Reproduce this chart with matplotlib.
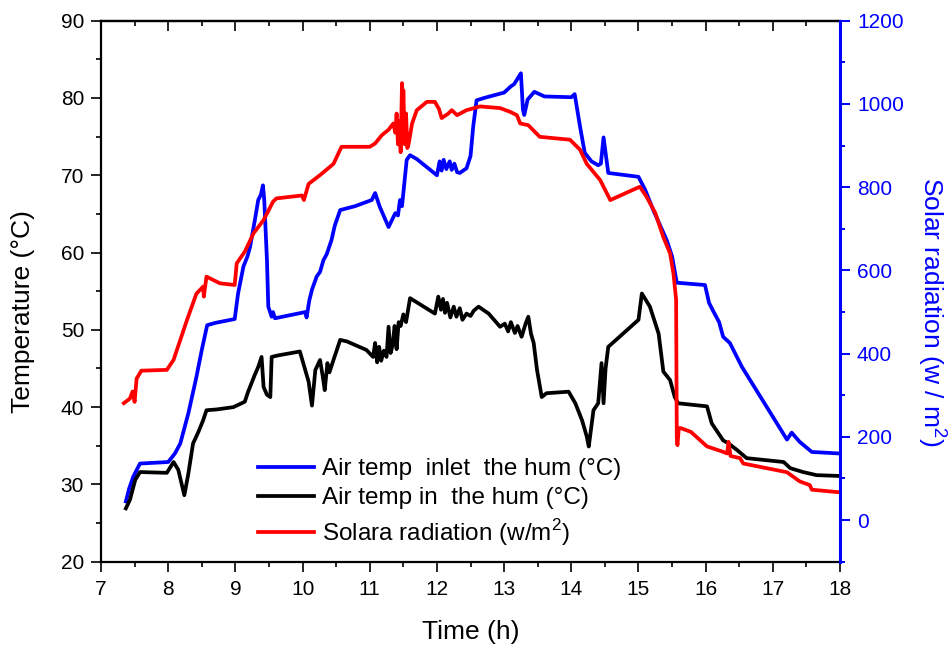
import matplotlib
matplotlib.use("Agg")
import matplotlib.pyplot as plt
from matplotlib.ticker import MultipleLocator

plt.rcParams['font.family'] = ['Liberation Sans', 'DejaVu Sans']
plt.rcParams['mathtext.fontset'] = 'custom'
plt.rcParams['mathtext.rm'] = 'Liberation Sans'

# Air temperature at the humidifier inlet (°C)
inlet_time = [7.37, 7.42, 7.48, 7.58, 8.00, 8.10, 8.18, 8.30, 8.42, 8.50, 8.58, 8.70,
              8.99, 9.04, 9.12, 9.18, 9.22, 9.29, 9.34, 9.38, 9.41, 9.43, 9.47, 9.49,
              9.54, 9.56, 9.59, 10.04, 10.06, 10.10, 10.14, 10.21, 10.26, 10.31, 10.36,
              10.43, 10.48, 10.56, 10.78, 11.03, 11.08, 11.15, 11.28, 11.38, 11.42, 11.45,
              11.48, 11.50, 11.55, 11.60, 11.70, 12.00, 12.04, 12.07, 12.10, 12.14, 12.19,
              12.22, 12.26, 12.30, 12.34, 12.44, 12.50, 12.54, 12.59, 12.70, 13.00, 13.10,
              13.15, 13.20, 13.25, 13.28, 13.30, 13.35, 13.45, 13.60, 14.00, 14.05, 14.13,
              14.20, 14.30, 14.40, 14.44, 14.48, 14.55, 15.00, 15.10, 15.22, 15.42, 15.50,
              15.57, 15.99, 16.05, 16.12, 16.20, 16.26, 16.36, 16.54, 17.21, 17.28, 17.40,
              17.58, 18.00]
inlet_temp = [27.8, 29.5, 31.0, 32.7, 32.9, 34.0, 35.3, 39.2, 43.9, 47.4, 50.6, 50.9,
              51.4, 54.7, 58.2, 59.5, 60.8, 64.2, 66.8, 67.5, 68.7, 66.8, 59.0, 53.0,
              51.7, 52.3, 51.5, 52.3, 51.6, 53.8, 55.2, 56.9, 57.5, 59.0, 59.8,
              61.6, 63.5, 65.5, 66.0, 66.8, 67.7, 65.9, 63.3, 65.1, 64.8, 66.8,
              66.0, 67.7, 72.0, 72.6, 72.1, 70.0, 71.8, 70.6, 72.0, 70.8, 71.8,
              70.7, 71.5, 70.4, 70.3, 70.9, 72.5, 76.3, 79.7, 80.0, 80.7, 81.5,
              81.8, 82.5, 83.2, 78.5, 77.8, 79.8, 80.8, 80.2, 80.1, 80.5, 76.3,
              72.9, 71.8, 71.3, 71.5, 74.9, 70.3, 69.8, 68.1, 65.5, 61.6, 59.5,
              56.1, 55.8, 53.5, 52.3, 51.0, 49.1, 48.3, 45.2, 35.8, 36.7, 35.5,
              34.2, 34.0]

# Air temperature inside the humidifier (°C)
hum_time = [7.37, 7.43, 7.51, 7.58, 7.98, 8.08, 8.15, 8.24, 8.30, 8.37, 8.45, 8.52,
            8.57, 8.72, 8.97, 9.14, 9.19, 9.29, 9.34, 9.39, 9.42, 9.47, 9.52, 9.54,
            9.64, 9.96, 10.01, 10.09, 10.14, 10.19, 10.26, 10.30, 10.33, 10.37, 10.40,
            10.46, 10.56, 10.66, 10.95, 11.05, 11.08, 11.11, 11.14, 11.17, 11.21, 11.25,
            11.28, 11.31, 11.34, 11.37, 11.40, 11.43, 11.46, 11.50, 11.54, 11.60, 11.97,
            12.02, 12.06, 12.09, 12.12, 12.15, 12.20, 12.25, 12.29, 12.34, 12.38, 12.44,
            12.50, 12.55, 12.62, 12.77, 12.94, 13.01, 13.06, 13.10, 13.16, 13.20, 13.26,
            13.32, 13.36, 13.40, 13.44, 13.49, 13.56, 13.63, 13.96, 14.06, 14.16, 14.23,
            14.26, 14.33, 14.40, 14.45, 14.48, 14.51, 14.55, 15.00, 15.05, 15.17, 15.30,
            15.37, 15.47, 15.54, 15.59, 16.02, 16.09, 16.16, 16.26, 16.34, 16.46, 16.61,
            17.16, 17.26, 17.45, 17.65, 17.98]
hum_temp = [26.9, 28.0, 30.6, 31.6, 31.5, 32.9, 31.9, 28.6, 31.4, 35.3, 36.8, 38.3,
            39.6, 39.7, 40.0, 40.7, 42.0, 44.2, 45.2, 46.5, 42.6, 41.6, 41.3, 46.5,
            46.7, 47.2, 45.7, 43.3, 40.2, 44.8, 46.1, 44.0, 42.2, 45.7, 44.5,
            46.1, 48.7, 48.5, 47.4, 46.5, 48.3, 45.8, 47.8, 46.0, 47.3, 46.5,
            50.4, 47.0, 48.0, 50.5, 47.5, 51.0, 50.5, 52.0, 51.0, 54.1, 52.1,
            54.3, 52.6, 54.0, 52.2, 53.5, 51.6, 53.0, 51.7, 52.8, 51.3, 52.1,
            51.8, 52.5, 53.0, 52.1, 50.4, 50.8, 49.8, 51.0, 49.6, 50.5, 49.1,
            50.8, 51.7, 49.5, 48.3, 44.8, 41.3, 41.8, 42.0, 40.5, 38.3, 36.2,
            34.9, 39.6, 40.5, 45.7, 40.5, 45.0, 47.8, 51.3, 54.7, 53.0, 49.5,
            44.6, 43.5, 41.3, 40.5, 40.1, 37.9, 37.0, 35.7, 35.3, 34.5, 33.4,
            32.9, 32.1, 31.6, 31.2, 31.1]

# Solar radiation (W/m²)
sun_time = [7.34, 7.43, 7.47, 7.50, 7.53, 7.60, 7.98, 8.08, 8.28, 8.42, 8.52, 8.53,
            8.57, 8.77, 8.99, 9.02, 9.14, 9.27, 9.42, 9.56, 9.61, 9.99, 10.02, 10.09,
            10.26, 10.46, 10.58, 11.00, 11.08, 11.18, 11.28, 11.35, 11.38, 11.40, 11.42,
            11.44, 11.46, 11.48, 11.49, 11.50, 11.52, 11.54, 11.56, 11.58, 11.63, 11.70,
            11.85, 11.97, 12.03, 12.07, 12.17, 12.22, 12.30, 12.44, 12.64, 12.94, 13.09,
            13.19, 13.24, 13.36, 13.53, 13.98, 14.13, 14.23, 14.43, 14.58, 15.02, 15.12,
            15.25, 15.37, 15.47, 15.52, 15.56, 15.57, 15.58, 15.60, 15.63, 15.78, 16.02,
            16.26, 16.32, 16.34, 16.37, 16.51, 16.56, 17.21, 17.40, 17.55, 17.58, 17.98]
sun_rad = [281, 292, 309, 284, 340, 359, 361, 385, 481, 544, 561, 537,
           585, 569, 565, 617, 645, 689, 721, 765, 773, 780, 769, 808,
           829, 856, 897, 897, 905, 925, 938, 953, 931, 977, 903,
           958, 884, 1050, 940, 1033, 903, 977, 894, 905, 953, 985,
           1005, 1005, 988, 966, 977, 985, 973, 985, 994, 990, 981,
           973, 953, 949, 921, 914, 890, 856, 817, 769, 801, 777,
           738, 680, 641, 593, 530, 197, 180, 221, 221, 212, 177,
           164, 160, 188, 154, 149, 136, 115, 93, 84, 73, 67]

series_labels = ["Air temp  inlet  the hum (°C)",
                 "Air temp in  the hum (°C)",
                 "Solara radiation (w/m$^2$)"]

fig = plt.figure(figsize=(9.52, 6.49), dpi=100)
ax = fig.add_axes([0.1061, 0.1345, 0.7763, 0.8336])
ax2 = ax.twinx()

lw = 2.7
l1, = ax.plot(inlet_time, inlet_temp, color='#0000ff', lw=lw, label=series_labels[0])
l2, = ax.plot(hum_time, hum_temp, color='black', lw=lw, label=series_labels[1])
l3, = ax2.plot(sun_time, sun_rad, color='#ff0000', lw=lw, label=series_labels[2])

ax.set_xlim(7, 18)
ax.set_ylim(20, 90)
ax2.set_ylim(-100, 1200)

ax.xaxis.set_major_locator(MultipleLocator(1))
ax.xaxis.set_minor_locator(MultipleLocator(0.5))
ax.yaxis.set_major_locator(MultipleLocator(10))
ax.yaxis.set_minor_locator(MultipleLocator(5))
ax2.yaxis.set_major_locator(MultipleLocator(200))
ax2.yaxis.set_minor_locator(MultipleLocator(100))

tick_fs = 15
ax.tick_params(axis='both', which='major', direction='out', length=7.2, width=1.2,
               labelsize=tick_fs, pad=5)
ax.tick_params(axis='both', which='minor', direction='out', length=3.6, width=1.2)
ax.tick_params(axis='x', which='major', pad=6)
ax.tick_params(axis='y', which='both', right=False)

top = ax.secondary_xaxis('top')
top.xaxis.set_major_locator(MultipleLocator(1))
top.xaxis.set_minor_locator(MultipleLocator(0.5))
top.tick_params(axis='x', which='major', direction='in', length=7.2, width=1.2, labeltop=False)
top.tick_params(axis='x', which='minor', direction='in', length=3.6, width=1.2)
top.spines['top'].set_linewidth(1.6)

ax2.tick_params(axis='y', which='major', direction='out', length=7.2, width=1.4,
                colors='#0000ff', labelsize=tick_fs, pad=5)
ax2.tick_params(axis='y', which='minor', direction='out', length=3.6, width=1.4,
                colors='#0000ff')

for s in ['left', 'bottom', 'top']:
    ax.spines[s].set_linewidth(1.6)
ax2.spines['right'].set_color('#0000ff')
ax2.spines['right'].set_linewidth(2.2)
ax2.spines['left'].set_visible(False)
ax2.spines['top'].set_visible(False)
ax2.spines['bottom'].set_visible(False)

label_fs = 19
ax.set_xlabel("Time (h)", fontsize=label_fs, labelpad=15)
ax.set_ylabel("Temperature (°C)", fontsize=label_fs, va='center')
ax.yaxis.set_label_coords(-0.106, 0.463)
ax2.set_ylabel("Solar radiation (w / m$^2$)", fontsize=label_fs, color='#0000ff',
               rotation=270, va='center')
ax2.yaxis.set_label_coords(1.125, 0.462)

leg = ax.legend(handles=[l1, l2, l3], loc='lower left', bbox_to_anchor=(0.212, 0.026),
                frameon=False, fontsize=17.5, handlelength=2.3, handletextpad=0.35,
                labelspacing=0.3, borderpad=0, borderaxespad=0)
leg.set_zorder(5)

fig.savefig("out.png", dpi=100)
